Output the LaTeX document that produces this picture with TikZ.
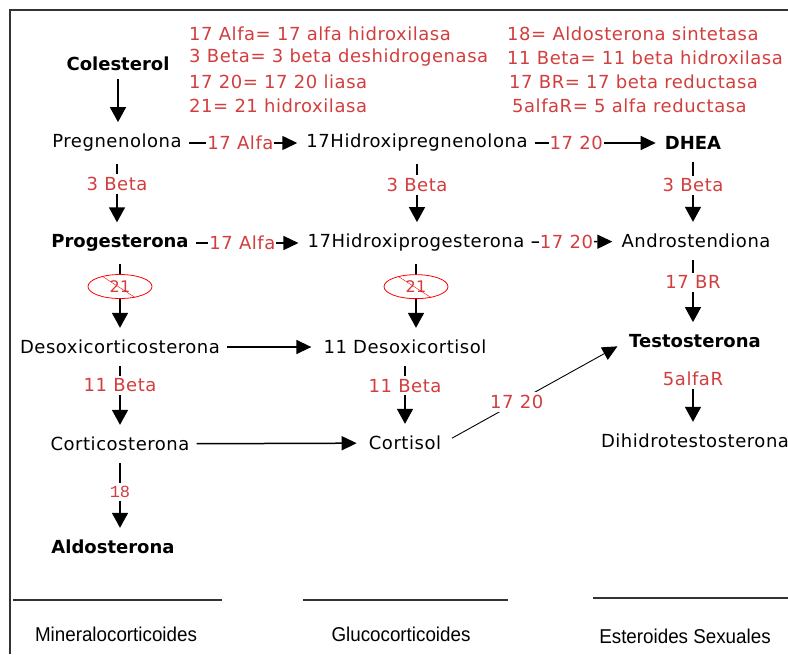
\documentclass[tikz,border=0pt]{standalone}
\usepackage{graphicx}
\usepackage{fontspec}
\setmainfont{DejaVu Sans}[LetterSpace=3,BoldFeatures={LetterSpace=0}]
\newfontfamily\grupofont{Liberation Sans}
\newfontfamily\monofont{Liberation Mono}
\usetikzlibrary{arrows.meta,shapes.geometric}
\definecolor{enzrojo}{RGB}{210,62,62}
\definecolor{marco}{RGB}{51,51,51}
\newcommand{\estrecho}[1]{\scalebox{0.94}[1]{#1}}

\begin{document}
\begin{tikzpicture}[x=1pt,y=-1pt,font=\fontsize{18}{22}\selectfont,
  hormona/.style={inner sep=2pt},
  clave/.style={inner sep=2pt,font=\fontsize{18}{22}\selectfont\bfseries},
  leyenda/.style={anchor=west,inner sep=0pt,text=enzrojo},
  enz/.style={fill=white,text=enzrojo,inner xsep=1pt,inner ysep=3pt},
  paso/.style={-{Triangle[width=16pt,length=15pt]},line width=1.6pt,shorten <=10pt,shorten >=10pt},
  lado/.style={-{Triangle[width=14pt,length=15pt]},line width=1.5pt,shorten <=5pt,shorten >=7pt},
  bloqueo/.style={ellipse,draw=red,thick,text=enzrojo,minimum width=64pt,minimum height=24pt,inner sep=0pt,fill=white,font=\fontsize{16}{18}\selectfont},
  grupo/.style={font=\grupofont\fontsize{20}{24}\selectfont}]

    \useasboundingbox (0,0) rectangle (788,654);
    \draw[marco,line width=2pt] (10,654) -- (10,10) -- (788,10);

    % Legend
    \node [leyenda] at (189,34) (l1) {17 Alfa= 17 alfa hidroxilasa};
    \node [leyenda] at (189,58) (l2) {3 Beta= 3 beta deshidrogenasa};
    \node [leyenda] at (189,82) (l3) {17 20= 17 20 liasa};
    \node [leyenda] at (189,106) (l4) {21= 21 hidroxilasa};
    \node [leyenda] at (507,34) (r1) {18= Aldosterona sintetasa};
    \node [leyenda] at (507,58) (r2) {11 Beta= 11 beta hidroxilasa};
    \node [leyenda] at (509,82) (r3) {17 BR= 17 beta reductasa};
    \node [leyenda] at (512,106) (r4) {5alfaR= 5 alfa reductasa};

    % Hormones
    \node [clave] at (118,64) (col) {Colesterol};
    \node [hormona] at (117,143) (preg) {Pregnenolona};
    \node [hormona] at (417,143) (hpreg) {17Hidroxipregnenolona};
    \node [clave] at (693,143) (dhea) {DHEA};
    \node [clave] at (120,243) (prog) {Progesterona};
    \node [hormona] at (416,243) (hprog) {17Hidroxiprogesterona};
    \node [hormona] at (696,241) (andro) {Androstendiona};
    \node [hormona] at (120,347) (doc) {Desoxicorticosterona};
    \node [hormona] at (405,347) (dcort) {11 Desoxicortisol};
    \node [clave] at (695,341) (testo) {Testosterona};
    \node [hormona] at (120,444) (cortico) {Corticosterona};
    \node [hormona] at (405,443) (cortisol) {Cortisol};
    \node [hormona] at (695,441) (dht) {Dihidrotestosterona};
    \node [clave] at (113,547) (aldo) {Aldosterona};

    % Vertical steps
    \draw[paso,shorten <=6pt] (col.south) -- (col.south |- preg.north);
    \draw[paso] (preg.south) -- (preg.south |- prog.north) node[enz,pos=.38] {3 Beta};
    \draw[paso] (hpreg.south) -- (hpreg.south |- hprog.north) node[enz,pos=.4] {3 Beta};
    \draw[paso] (dhea.south) -- (dhea.south |- andro.north) node[enz,pos=.42] {3 Beta};
    \draw[paso] (andro.south -| dhea.south) -- (dhea.south |- testo.north) node[enz,pos=.39] {17 BR};
    \draw[paso,shorten <=25pt] (testo.south -| dhea.south) -- (dhea.south |- dht.north) node[enz,pos=.35] {5alfaR};
    \draw[paso] (prog.south) -- (prog.south |- doc.north) node[bloqueo,pos=.39] (b1) {21};
    \draw[paso] (hprog.south) -- (hprog.south |- dcort.north) node[bloqueo,pos=.39] (b2) {21};
    \draw[paso] (doc.south) -- (doc.south |- cortico.north) node[enz,pos=.37] {11 Beta};
    \draw[paso] (dcort.south) -- (dcort.south |- cortisol.north) node[enz,pos=.38] {11 Beta};
    \draw[paso] (cortico.south) -- (cortico.south |- aldo.north) node[enz,pos=.46,font=\monofont\fontsize{17}{20}\selectfont] {18};
    \draw[red] (b1.150) -- (b1.-36);
    \draw[red] (b2.150) -- (b2.-36);

    % Horizontal steps
    \draw[lado] (preg) -- (hpreg) node[enz,pos=.47] {17 Alfa};
    \draw[lado] (hpreg) -- (dhea) node[enz,pos=.35] {17 20};
    \draw[lado] (prog) -- (hprog) node[enz,pos=.45] {17 Alfa};
    \draw[lado] (hprog) -- (andro) node[enz,pos=.43] {17 20};
    \draw[lado,shorten >=10pt] (doc) -- (dcort);
    \draw[lado,shorten >=10pt] (cortico) -- (cortisol);
    \draw[lado,line width=0.9pt,shorten <=10pt,shorten >=11pt] (cortisol.east) -- (testo.west) node[enz,pos=.4] {17 20};

    % Groups
    \draw[marco,line width=2pt] (13,600) -- (222,600);
    \draw[marco,line width=2pt] (303,600) -- (508,600);
    \draw[marco,line width=2pt] (593,598) -- (788,598);
    \node [grupo] at (116,634) (mineral) {\estrecho{Mineralocorticoides}};
    \node [grupo] at (401,634) (gluco) {\estrecho{Glucocorticoides}};
    \node [grupo] at (685,636) (sexual) {\estrecho{Esteroides Sexuales}};
\end{tikzpicture}
\end{document}
